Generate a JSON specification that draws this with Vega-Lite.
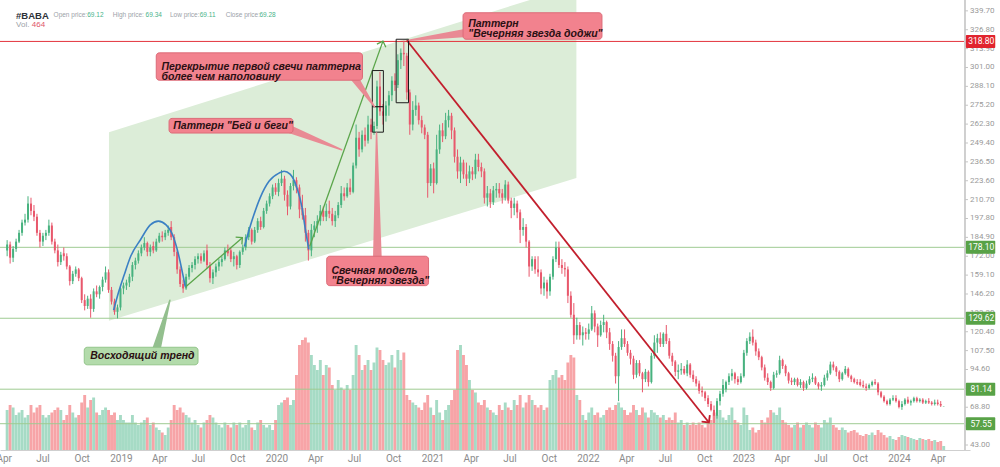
{
  "$schema": "https://vega.github.io/schema/vega-lite/v6.json",
  "width": 970,
  "height": 450,
  "autosize": {"type": "none"},
  "padding": {"left": 0, "top": 0, "right": 30, "bottom": 17},
  "background": "white",
  "config": {"view": {"stroke": null}, "font": "Liberation Sans"},
  "datasets": {
    "candles": [
      {"t":"2018-04-09","o":176,"h":183,"l":172,"c":180,"v":80},
      {"t":"2018-04-16","o":180,"h":182,"l":167,"c":171,"v":90},
      {"t":"2018-04-23","o":171,"h":179,"l":168,"c":177,"v":85},
      {"t":"2018-04-30","o":177,"h":184,"l":175,"c":182,"v":70},
      {"t":"2018-05-07","o":182,"h":190,"l":181,"c":188,"v":75},
      {"t":"2018-05-14","o":188,"h":197,"l":186,"c":195,"v":80},
      {"t":"2018-05-21","o":195,"h":201,"l":193,"c":197,"v":65},
      {"t":"2018-05-28","o":197,"h":213,"l":195,"c":208,"v":70},
      {"t":"2018-06-04","o":208,"h":212,"l":200,"c":203,"v":90},
      {"t":"2018-06-11","o":203,"h":207,"l":196,"c":199,"v":75},
      {"t":"2018-06-18","o":199,"h":201,"l":186,"c":188,"v":85},
      {"t":"2018-06-25","o":188,"h":190,"l":178,"c":182,"v":90},
      {"t":"2018-07-02","o":182,"h":188,"l":179,"c":186,"v":70},
      {"t":"2018-07-09","o":186,"h":190,"l":183,"c":188,"v":65},
      {"t":"2018-07-16","o":188,"h":197,"l":186,"c":193,"v":70},
      {"t":"2018-07-23","o":193,"h":195,"l":180,"c":182,"v":75},
      {"t":"2018-07-30","o":182,"h":184,"l":174,"c":176,"v":80},
      {"t":"2018-08-06","o":176,"h":180,"l":165,"c":168,"v":85},
      {"t":"2018-08-13","o":168,"h":175,"l":166,"c":173,"v":80},
      {"t":"2018-08-20","o":174,"h":178,"l":169,"c":172,"v":60},
      {"t":"2018-08-27","o":172,"h":174,"l":163,"c":165,"v":70},
      {"t":"2018-09-03","o":165,"h":166,"l":152,"c":155,"v":90},
      {"t":"2018-09-10","o":155,"h":162,"l":153,"c":160,"v":75},
      {"t":"2018-09-17","o":160,"h":165,"l":158,"c":163,"v":65},
      {"t":"2018-09-24","o":163,"h":164,"l":155,"c":157,"v":70},
      {"t":"2018-10-01","o":157,"h":158,"l":140,"c":142,"v":95},
      {"t":"2018-10-08","o":142,"h":146,"l":135,"c":138,"v":110},
      {"t":"2018-10-15","o":138,"h":145,"l":136,"c":143,"v":85},
      {"t":"2018-10-22","o":143,"h":146,"l":130,"c":136,"v":100},
      {"t":"2018-10-29","o":136,"h":150,"l":134,"c":148,"v":105},
      {"t":"2018-11-05","o":148,"h":152,"l":144,"c":146,"v":75},
      {"t":"2018-11-12","o":146,"h":152,"l":143,"c":151,"v":70},
      {"t":"2018-11-19","o":151,"h":158,"l":148,"c":156,"v":80},
      {"t":"2018-11-26","o":156,"h":165,"l":154,"c":161,"v":85},
      {"t":"2018-12-03","o":161,"h":163,"l":147,"c":149,"v":80},
      {"t":"2018-12-10","o":149,"h":151,"l":139,"c":141,"v":70},
      {"t":"2018-12-17","o":141,"h":143,"l":132,"c":134,"v":75},
      {"t":"2018-12-24","o":134,"h":139,"l":129.5,"c":137,"v":60},
      {"t":"2018-12-31","o":137,"h":152,"l":135,"c":150,"v":70},
      {"t":"2019-01-07","o":150,"h":154,"l":146,"c":152,"v":60},
      {"t":"2019-01-14","o":152,"h":156,"l":149,"c":154,"v":55},
      {"t":"2019-01-21","o":154,"h":160,"l":151,"c":158,"v":55},
      {"t":"2019-01-28","o":158,"h":168,"l":155,"c":166,"v":70},
      {"t":"2019-02-04","o":166,"h":171,"l":163,"c":169,"v":55},
      {"t":"2019-02-11","o":169,"h":176,"l":167,"c":174,"v":50},
      {"t":"2019-02-18","o":174,"h":180,"l":172,"c":178,"v":55},
      {"t":"2019-02-25","o":178,"h":185,"l":176,"c":181,"v":60},
      {"t":"2019-03-04","o":181,"h":182,"l":172,"c":175,"v":65},
      {"t":"2019-03-11","o":175,"h":180,"l":172,"c":178,"v":50},
      {"t":"2019-03-18","o":179,"h":182,"l":174,"c":176,"v":55},
      {"t":"2019-03-25","o":176,"h":184,"l":175,"c":182,"v":45},
      {"t":"2019-04-01","o":182,"h":188,"l":181,"c":186,"v":40},
      {"t":"2019-04-08","o":186,"h":189,"l":182,"c":185,"v":35},
      {"t":"2019-04-15","o":185,"h":190,"l":183,"c":188,"v":30},
      {"t":"2019-04-22","o":188,"h":193,"l":186,"c":190,"v":45},
      {"t":"2019-04-29","o":192,"h":196,"l":183,"c":185,"v":60},
      {"t":"2019-05-06","o":185,"h":187,"l":172,"c":175,"v":90},
      {"t":"2019-05-13","o":175,"h":176,"l":160,"c":163,"v":80},
      {"t":"2019-05-20","o":163,"h":165,"l":151,"c":153,"v":85},
      {"t":"2019-05-27","o":153,"h":156,"l":147,"c":150,"v":75},
      {"t":"2019-06-03","o":150,"h":160,"l":149,"c":158,"v":70},
      {"t":"2019-06-10","o":158,"h":166,"l":156,"c":164,"v":65},
      {"t":"2019-06-17","o":164,"h":168,"l":161,"c":166,"v":55},
      {"t":"2019-06-24","o":166,"h":172,"l":163,"c":170,"v":60},
      {"t":"2019-07-01","o":170,"h":174,"l":167,"c":172,"v":50},
      {"t":"2019-07-08","o":172,"h":174,"l":167,"c":169,"v":45},
      {"t":"2019-07-15","o":169,"h":176,"l":168,"c":174,"v":55},
      {"t":"2019-07-22","o":176,"h":180,"l":164,"c":166,"v":60},
      {"t":"2019-07-29","o":166,"h":168,"l":154,"c":157,"v":70},
      {"t":"2019-08-05","o":157,"h":163,"l":153,"c":161,"v":65},
      {"t":"2019-08-12","o":161,"h":167,"l":158,"c":165,"v":55},
      {"t":"2019-08-19","o":165,"h":170,"l":162,"c":168,"v":50},
      {"t":"2019-08-26","o":168,"h":172,"l":165,"c":170,"v":45},
      {"t":"2019-09-02","o":170,"h":178,"l":169,"c":176,"v":55},
      {"t":"2019-09-09","o":176,"h":180,"l":172,"c":174,"v":50},
      {"t":"2019-09-16","o":176,"h":178,"l":168,"c":170,"v":45},
      {"t":"2019-09-23","o":170,"h":175,"l":165,"c":172,"v":55},
      {"t":"2019-09-30","o":172,"h":173,"l":163,"c":166,"v":50},
      {"t":"2019-10-07","o":166,"h":176,"l":164,"c":175,"v":55},
      {"t":"2019-10-14","o":175,"h":180,"l":173,"c":178,"v":45},
      {"t":"2019-10-21","o":178,"h":187,"l":176,"c":185,"v":50},
      {"t":"2019-10-28","o":185,"h":192,"l":183,"c":190,"v":60},
      {"t":"2019-11-04","o":190,"h":191,"l":180,"c":182,"v":45},
      {"t":"2019-11-11","o":182,"h":192,"l":181,"c":190,"v":40},
      {"t":"2019-11-18","o":190,"h":198,"l":188,"c":196,"v":55},
      {"t":"2019-11-25","o":196,"h":199,"l":190,"c":192,"v":60},
      {"t":"2019-12-02","o":192,"h":205,"l":191,"c":203,"v":50},
      {"t":"2019-12-09","o":203,"h":210,"l":201,"c":208,"v":45},
      {"t":"2019-12-16","o":208,"h":215,"l":206,"c":213,"v":50},
      {"t":"2019-12-23","o":213,"h":221,"l":211,"c":219,"v":40},
      {"t":"2019-12-30","o":219,"h":222,"l":214,"c":216,"v":60},
      {"t":"2020-01-06","o":216,"h":225,"l":213,"c":222,"v":90},
      {"t":"2020-01-13","o":222,"h":231,"l":220,"c":225,"v":95},
      {"t":"2020-01-20","o":225,"h":227,"l":210,"c":214,"v":100},
      {"t":"2020-01-27","o":214,"h":217,"l":200,"c":206,"v":105},
      {"t":"2020-02-03","o":206,"h":222,"l":204,"c":220,"v":90},
      {"t":"2020-02-10","o":220,"h":231,"l":217,"c":224,"v":100},
      {"t":"2020-02-17","o":224,"h":226,"l":215,"c":219,"v":150},
      {"t":"2020-02-24","o":219,"h":221,"l":198,"c":204,"v":210},
      {"t":"2020-03-02","o":205,"h":214,"l":197,"c":200,"v":220},
      {"t":"2020-03-09","o":200,"h":205,"l":182,"c":188,"v":225},
      {"t":"2020-03-16","o":188,"h":190,"l":169,"c":176,"v":215},
      {"t":"2020-03-23","o":176,"h":194,"l":172,"c":190,"v":190},
      {"t":"2020-03-30","o":190,"h":196,"l":185,"c":193,"v":170},
      {"t":"2020-04-06","o":193,"h":200,"l":188,"c":196,"v":160},
      {"t":"2020-04-13","o":196,"h":207,"l":193,"c":203,"v":180},
      {"t":"2020-04-20","o":203,"h":206,"l":196,"c":199,"v":150},
      {"t":"2020-04-27","o":199,"h":208,"l":196,"c":203,"v":170},
      {"t":"2020-05-04","o":203,"h":210,"l":198,"c":201,"v":165},
      {"t":"2020-05-11","o":201,"h":205,"l":193,"c":196,"v":130},
      {"t":"2020-05-18","o":196,"h":203,"l":192,"c":200,"v":120},
      {"t":"2020-05-25","o":200,"h":209,"l":198,"c":207,"v":140},
      {"t":"2020-06-01","o":207,"h":220,"l":205,"c":215,"v":125},
      {"t":"2020-06-08","o":215,"h":219,"l":210,"c":213,"v":120},
      {"t":"2020-06-15","o":213,"h":222,"l":212,"c":219,"v":130},
      {"t":"2020-06-22","o":219,"h":225,"l":214,"c":216,"v":120},
      {"t":"2020-06-29","o":216,"h":236,"l":215,"c":234,"v":150},
      {"t":"2020-07-06","o":234,"h":262,"l":232,"c":253,"v":210},
      {"t":"2020-07-13","o":253,"h":257,"l":240,"c":245,"v":190},
      {"t":"2020-07-20","o":245,"h":258,"l":243,"c":255,"v":160},
      {"t":"2020-07-27","o":255,"h":260,"l":247,"c":251,"v":170},
      {"t":"2020-08-03","o":251,"h":268,"l":249,"c":262,"v":180},
      {"t":"2020-08-10","o":262,"h":266,"l":252,"c":257,"v":160},
      {"t":"2020-08-17","o":257,"h":264,"l":255,"c":261,"v":175},
      {"t":"2020-08-24","o":261,"h":292,"l":259,"c":288,"v":205},
      {"t":"2020-08-31","o":288,"h":298,"l":268,"c":271,"v":200},
      {"t":"2020-09-07","o":271,"h":276,"l":262,"c":268,"v":180},
      {"t":"2020-09-14","o":268,"h":278,"l":264,"c":275,"v":170},
      {"t":"2020-09-21","o":275,"h":285,"l":268,"c":282,"v":175},
      {"t":"2020-09-28","o":282,"h":295,"l":278,"c":292,"v":190},
      {"t":"2020-10-05","o":292,"h":297,"l":285,"c":289,"v":165},
      {"t":"2020-10-12","o":289,"h":310,"l":287,"c":306,"v":200},
      {"t":"2020-10-19","o":306,"h":314,"l":300,"c":311,"v":180},
      {"t":"2020-10-26","o":311,"h":319.3,"l":302,"c":310,"v":195},
      {"t":"2020-11-02","o":309,"h":311,"l":279,"c":284,"v":110},
      {"t":"2020-11-09","o":284,"h":286,"l":255,"c":262,"v":100},
      {"t":"2020-11-16","o":262,"h":278,"l":258,"c":272,"v":95},
      {"t":"2020-11-23","o":272,"h":282,"l":268,"c":275,"v":90},
      {"t":"2020-11-30","o":275,"h":277,"l":262,"c":265,"v":85},
      {"t":"2020-12-07","o":265,"h":268,"l":256,"c":260,"v":80},
      {"t":"2020-12-14","o":260,"h":262,"l":252,"c":255,"v":95},
      {"t":"2020-12-21","o":255,"h":257,"l":212,"c":222,"v":110},
      {"t":"2020-12-28","o":222,"h":235,"l":220,"c":232,"v":85},
      {"t":"2021-01-04","o":232,"h":236,"l":215,"c":222,"v":70},
      {"t":"2021-01-11","o":222,"h":255,"l":221,"c":245,"v":100},
      {"t":"2021-01-18","o":245,"h":262,"l":242,"c":258,"v":75},
      {"t":"2021-01-25","o":258,"h":263,"l":250,"c":254,"v":60},
      {"t":"2021-02-01","o":254,"h":270,"l":252,"c":265,"v":80},
      {"t":"2021-02-08","o":265,"h":272,"l":260,"c":268,"v":90},
      {"t":"2021-02-15","o":268,"h":270,"l":252,"c":258,"v":100},
      {"t":"2021-02-22","o":258,"h":260,"l":236,"c":240,"v":120},
      {"t":"2021-03-01","o":240,"h":245,"l":225,"c":230,"v":200},
      {"t":"2021-03-08","o":230,"h":240,"l":222,"c":236,"v":210},
      {"t":"2021-03-15","o":236,"h":238,"l":225,"c":228,"v":190},
      {"t":"2021-03-22","o":228,"h":236,"l":220,"c":225,"v":170},
      {"t":"2021-03-29","o":225,"h":234,"l":222,"c":230,"v":140},
      {"t":"2021-04-05","o":230,"h":233,"l":224,"c":228,"v":120},
      {"t":"2021-04-12","o":228,"h":242,"l":225,"c":238,"v":115},
      {"t":"2021-04-19","o":238,"h":242,"l":230,"c":233,"v":95},
      {"t":"2021-04-26","o":233,"h":236,"l":226,"c":230,"v":90},
      {"t":"2021-05-03","o":230,"h":232,"l":208,"c":212,"v":100},
      {"t":"2021-05-10","o":212,"h":220,"l":206,"c":215,"v":85},
      {"t":"2021-05-17","o":215,"h":218,"l":205,"c":209,"v":80},
      {"t":"2021-05-24","o":209,"h":220,"l":207,"c":217,"v":75},
      {"t":"2021-05-31","o":217,"h":222,"l":212,"c":218,"v":70},
      {"t":"2021-06-07","o":218,"h":222,"l":212,"c":215,"v":90},
      {"t":"2021-06-14","o":215,"h":218,"l":208,"c":212,"v":80},
      {"t":"2021-06-21","o":212,"h":224,"l":210,"c":221,"v":95},
      {"t":"2021-06-28","o":221,"h":223,"l":208,"c":210,"v":85},
      {"t":"2021-07-05","o":210,"h":212,"l":198,"c":205,"v":80},
      {"t":"2021-07-12","o":205,"h":212,"l":200,"c":208,"v":100},
      {"t":"2021-07-19","o":208,"h":210,"l":198,"c":202,"v":90},
      {"t":"2021-07-26","o":202,"h":204,"l":181,"c":190,"v":110},
      {"t":"2021-08-02","o":190,"h":198,"l":186,"c":192,"v":85},
      {"t":"2021-08-09","o":192,"h":194,"l":178,"c":182,"v":95},
      {"t":"2021-08-16","o":182,"h":183,"l":158,"c":165,"v":110},
      {"t":"2021-08-23","o":165,"h":172,"l":162,"c":170,"v":100},
      {"t":"2021-08-30","o":170,"h":172,"l":160,"c":163,"v":90},
      {"t":"2021-09-06","o":163,"h":172,"l":158,"c":161,"v":85},
      {"t":"2021-09-13","o":161,"h":163,"l":146,"c":150,"v":90},
      {"t":"2021-09-20","o":150,"h":158,"l":145,"c":154,"v":80},
      {"t":"2021-09-27","o":154,"h":156,"l":143,"c":148,"v":85},
      {"t":"2021-10-04","o":148,"h":160,"l":145,"c":158,"v":140},
      {"t":"2021-10-11","o":158,"h":172,"l":156,"c":170,"v":150},
      {"t":"2021-10-18","o":170,"h":182,"l":168,"c":178,"v":160},
      {"t":"2021-10-25","o":178,"h":182,"l":164,"c":166,"v":145},
      {"t":"2021-11-01","o":166,"h":170,"l":160,"c":164,"v":150},
      {"t":"2021-11-08","o":164,"h":168,"l":158,"c":163,"v":140},
      {"t":"2021-11-15","o":163,"h":165,"l":140,"c":145,"v":175},
      {"t":"2021-11-22","o":145,"h":148,"l":130,"c":132,"v":190},
      {"t":"2021-11-29","o":132,"h":140,"l":112,"c":118,"v":185},
      {"t":"2021-12-06","o":118,"h":130,"l":115,"c":125,"v":110},
      {"t":"2021-12-13","o":125,"h":127,"l":115,"c":118,"v":100},
      {"t":"2021-12-20","o":118,"h":124,"l":111,"c":120,"v":70},
      {"t":"2021-12-27","o":120,"h":123,"l":115,"c":119,"v":60},
      {"t":"2022-01-03","o":119,"h":126,"l":115,"c":122,"v":75},
      {"t":"2022-01-10","o":122,"h":138,"l":121,"c":133,"v":85},
      {"t":"2022-01-17","o":133,"h":135,"l":120,"c":124,"v":70},
      {"t":"2022-01-24","o":124,"h":126,"l":110,"c":118,"v":75},
      {"t":"2022-01-31","o":118,"h":128,"l":117,"c":125,"v":65},
      {"t":"2022-02-07","o":125,"h":132,"l":120,"c":127,"v":70},
      {"t":"2022-02-14","o":127,"h":128,"l":116,"c":120,"v":80},
      {"t":"2022-02-21","o":120,"h":123,"l":108,"c":112,"v":85},
      {"t":"2022-02-28","o":112,"h":114,"l":100,"c":104,"v":80},
      {"t":"2022-03-07","o":104,"h":106,"l":85,"c":90,"v":90},
      {"t":"2022-03-14","o":90,"h":114,"l":73,"c":110,"v":95},
      {"t":"2022-03-21","o":110,"h":122,"l":108,"c":116,"v":85},
      {"t":"2022-03-28","o":116,"h":122,"l":110,"c":112,"v":80},
      {"t":"2022-04-04","o":112,"h":114,"l":104,"c":106,"v":70},
      {"t":"2022-04-11","o":106,"h":108,"l":98,"c":102,"v":75},
      {"t":"2022-04-18","o":102,"h":104,"l":88,"c":91,"v":90},
      {"t":"2022-04-25","o":91,"h":101,"l":89,"c":99,"v":80},
      {"t":"2022-05-02","o":99,"h":101,"l":90,"c":92,"v":70},
      {"t":"2022-05-09","o":92,"h":93,"l":79,"c":88,"v":85},
      {"t":"2022-05-16","o":88,"h":95,"l":86,"c":93,"v":75},
      {"t":"2022-05-23","o":93,"h":94,"l":83,"c":86,"v":65},
      {"t":"2022-05-30","o":86,"h":106,"l":85,"c":104,"v":80},
      {"t":"2022-06-06","o":104,"h":118,"l":102,"c":113,"v":75},
      {"t":"2022-06-13","o":113,"h":119,"l":106,"c":116,"v":70},
      {"t":"2022-06-20","o":116,"h":120,"l":110,"c":112,"v":65},
      {"t":"2022-06-27","o":112,"h":120,"l":110,"c":119,"v":70},
      {"t":"2022-07-04","o":119,"h":125,"l":112,"c":114,"v":60},
      {"t":"2022-07-11","o":114,"h":116,"l":102,"c":104,"v":65},
      {"t":"2022-07-18","o":104,"h":106,"l":97,"c":100,"v":60},
      {"t":"2022-07-25","o":100,"h":101,"l":90,"c":93,"v":75},
      {"t":"2022-08-01","o":93,"h":98,"l":88,"c":94,"v":55},
      {"t":"2022-08-08","o":94,"h":99,"l":91,"c":95,"v":60},
      {"t":"2022-08-15","o":95,"h":97,"l":91,"c":92,"v":50},
      {"t":"2022-08-22","o":92,"h":101,"l":90,"c":98,"v":55},
      {"t":"2022-08-29","o":98,"h":99,"l":89,"c":91,"v":50},
      {"t":"2022-09-05","o":91,"h":94,"l":86,"c":88,"v":55},
      {"t":"2022-09-12","o":88,"h":90,"l":83,"c":85,"v":50},
      {"t":"2022-09-19","o":85,"h":87,"l":78,"c":80,"v":55},
      {"t":"2022-09-26","o":80,"h":83,"l":76,"c":79,"v":50},
      {"t":"2022-10-03","o":79,"h":80,"l":73,"c":75,"v":45},
      {"t":"2022-10-10","o":75,"h":77,"l":69,"c":71,"v":55},
      {"t":"2022-10-17","o":71,"h":73,"l":66,"c":67,"v":60},
      {"t":"2022-10-24","o":67,"h":70,"l":58,"c":63,"v":75},
      {"t":"2022-10-31","o":63,"h":75,"l":61,"c":73,"v":70},
      {"t":"2022-11-07","o":73,"h":80,"l":70,"c":78,"v":80},
      {"t":"2022-11-14","o":78,"h":88,"l":76,"c":84,"v":65},
      {"t":"2022-11-21","o":81,"h":87,"l":79,"c":86,"v":60},
      {"t":"2022-11-28","o":86,"h":92,"l":84,"c":90,"v":70},
      {"t":"2022-12-05","o":90,"h":95,"l":87,"c":92,"v":85},
      {"t":"2022-12-12","o":92,"h":93,"l":85,"c":88,"v":60},
      {"t":"2022-12-19","o":88,"h":90,"l":84,"c":86,"v":55},
      {"t":"2022-12-26","o":86,"h":92,"l":85,"c":90,"v":50},
      {"t":"2023-01-02","o":90,"h":108,"l":89,"c":106,"v":85},
      {"t":"2023-01-09","o":106,"h":116,"l":104,"c":114,"v":70},
      {"t":"2023-01-16","o":114,"h":120,"l":112,"c":117,"v":40},
      {"t":"2023-01-23","o":117,"h":122,"l":111,"c":113,"v":45},
      {"t":"2023-01-30","o":113,"h":115,"l":104,"c":107,"v":35},
      {"t":"2023-02-06","o":107,"h":109,"l":101,"c":103,"v":40},
      {"t":"2023-02-13","o":103,"h":104,"l":94,"c":96,"v":60},
      {"t":"2023-02-20","o":96,"h":98,"l":87,"c":89,"v":55},
      {"t":"2023-02-27","o":89,"h":92,"l":84,"c":86,"v":65},
      {"t":"2023-03-06","o":86,"h":87,"l":80,"c":82,"v":80},
      {"t":"2023-03-13","o":82,"h":93,"l":81,"c":91,"v":75},
      {"t":"2023-03-20","o":91,"h":94,"l":89,"c":92,"v":70},
      {"t":"2023-03-27","o":92,"h":104,"l":91,"c":101,"v":85},
      {"t":"2023-04-03","o":101,"h":102,"l":95,"c":97,"v":60},
      {"t":"2023-04-10","o":97,"h":98,"l":90,"c":92,"v":55},
      {"t":"2023-04-17","o":92,"h":93,"l":85,"c":87,"v":50},
      {"t":"2023-04-24","o":87,"h":89,"l":84,"c":86,"v":45},
      {"t":"2023-05-01","o":86,"h":89,"l":84,"c":88,"v":50},
      {"t":"2023-05-08","o":88,"h":89,"l":83,"c":84,"v":55},
      {"t":"2023-05-15","o":84,"h":88,"l":82,"c":86,"v":45},
      {"t":"2023-05-22","o":86,"h":87,"l":80,"c":82,"v":50},
      {"t":"2023-05-29","o":82,"h":87,"l":81,"c":85,"v":55},
      {"t":"2023-06-05","o":85,"h":90,"l":84,"c":88,"v":50},
      {"t":"2023-06-12","o":88,"h":92,"l":86,"c":89,"v":45},
      {"t":"2023-06-19","o":89,"h":90,"l":84,"c":85,"v":55},
      {"t":"2023-06-26","o":85,"h":86,"l":81,"c":83,"v":50},
      {"t":"2023-07-03","o":83,"h":86,"l":80,"c":84,"v":45},
      {"t":"2023-07-10","o":84,"h":91,"l":83,"c":89,"v":60},
      {"t":"2023-07-17","o":89,"h":94,"l":87,"c":92,"v":55},
      {"t":"2023-07-24","o":92,"h":100,"l":91,"c":98,"v":65},
      {"t":"2023-07-31","o":98,"h":100,"l":94,"c":96,"v":50},
      {"t":"2023-08-07","o":96,"h":97,"l":90,"c":93,"v":45},
      {"t":"2023-08-14","o":93,"h":94,"l":86,"c":88,"v":40},
      {"t":"2023-08-21","o":88,"h":93,"l":87,"c":92,"v":45},
      {"t":"2023-08-28","o":92,"h":97,"l":91,"c":95,"v":40},
      {"t":"2023-09-04","o":95,"h":96,"l":89,"c":90,"v":35},
      {"t":"2023-09-11","o":90,"h":91,"l":86,"c":88,"v":38},
      {"t":"2023-09-18","o":88,"h":89,"l":85,"c":86,"v":40},
      {"t":"2023-09-25","o":86,"h":88,"l":84,"c":85,"v":35},
      {"t":"2023-10-02","o":86,"h":88,"l":83,"c":84,"v":30},
      {"t":"2023-10-09","o":84,"h":87,"l":82,"c":83,"v":28},
      {"t":"2023-10-16","o":83,"h":85,"l":80,"c":82,"v":32},
      {"t":"2023-10-23","o":82,"h":85,"l":81,"c":84,"v":30},
      {"t":"2023-10-30","o":84,"h":87,"l":83,"c":86,"v":35},
      {"t":"2023-11-06","o":86,"h":88,"l":84,"c":85,"v":30},
      {"t":"2023-11-13","o":85,"h":86,"l":77,"c":79,"v":40},
      {"t":"2023-11-20","o":79,"h":80,"l":75,"c":76,"v":35},
      {"t":"2023-11-27","o":76,"h":77,"l":72,"c":73,"v":30},
      {"t":"2023-12-04","o":73,"h":74,"l":70,"c":71,"v":25},
      {"t":"2023-12-11","o":71,"h":75,"l":70,"c":74,"v":28},
      {"t":"2023-12-18","o":74,"h":77,"l":73,"c":75,"v":22},
      {"t":"2023-12-25","o":75,"h":77,"l":72,"c":73,"v":20},
      {"t":"2024-01-01","o":73,"h":74,"l":68,"c":69,"v":26},
      {"t":"2024-01-08","o":69,"h":73,"l":67,"c":71,"v":30},
      {"t":"2024-01-15","o":71,"h":75,"l":70,"c":74,"v":28},
      {"t":"2024-01-22","o":74,"h":76,"l":71,"c":72,"v":26},
      {"t":"2024-01-29","o":72,"h":74,"l":70,"c":73,"v":24},
      {"t":"2024-02-05","o":73,"h":76,"l":72,"c":75,"v":22},
      {"t":"2024-02-12","o":75,"h":76,"l":72,"c":73,"v":20},
      {"t":"2024-02-19","o":73,"h":75,"l":72,"c":74,"v":24},
      {"t":"2024-02-26","o":74,"h":75,"l":71,"c":72,"v":22},
      {"t":"2024-03-04","o":72,"h":74,"l":71,"c":73,"v":20},
      {"t":"2024-03-11","o":73,"h":75,"l":71,"c":72,"v":22},
      {"t":"2024-03-18","o":72,"h":73,"l":70,"c":71,"v":18},
      {"t":"2024-03-25","o":71,"h":74,"l":70,"c":72,"v":20},
      {"t":"2024-04-01","o":72,"h":74,"l":70,"c":71,"v":16},
      {"t":"2024-04-08","o":71,"h":73,"l":69,"c":70,"v":18},
      {"t":"2024-04-15","o":69.12,"h":69.34,"l":69.11,"c":69.28,"v":8}
    ],
    "yticks": [
      {"v": 43}, {"v": 55.9}, {"v": 68.8}, {"v": 81.7}, {"v": 94.6}, {"v": 107.5}, {"v": 120.4}, {"v": 133.3},
      {"v": 146.2}, {"v": 159.1}, {"v": 172}, {"v": 184.9}, {"v": 197.8}, {"v": 210.7}, {"v": 223.6}, {"v": 236.5},
      {"v": 249.4}, {"v": 262.3}, {"v": 275.2}, {"v": 288.1}, {"v": 301}, {"v": 313.9}, {"v": 326.8}, {"v": 339.7}
    ],
    "levels": [
      {"level": 318.8, "k": "r"},
      {"level": 178.1, "k": "g"},
      {"level": 129.62, "k": "g"},
      {"level": 81.14, "k": "g"},
      {"level": 57.55, "k": "g"}
    ],
    "channel": [
      {"t": "2018-12-04", "top": 256.8, "bot": 127.9},
      {"t": "2021-12-05", "top": 357.1, "bot": 225.4}
    ],
    "arcs": [
      {"id": "a1", "t": "2018-12-15", "p": 135.2},
      {"id": "a1", "t": "2018-12-27", "p": 147.9},
      {"id": "a1", "t": "2019-01-08", "p": 158.6},
      {"id": "a1", "t": "2019-01-24", "p": 172.0},
      {"id": "a1", "t": "2019-02-16", "p": 183.3},
      {"id": "a1", "t": "2019-03-11", "p": 193.4},
      {"id": "a1", "t": "2019-03-30", "p": 196.0},
      {"id": "a1", "t": "2019-04-17", "p": 193.4},
      {"id": "a1", "t": "2019-05-04", "p": 185.3},
      {"id": "a1", "t": "2019-05-15", "p": 174.6},
      {"id": "a1", "t": "2019-05-27", "p": 158.6},
      {"id": "a1", "t": "2019-06-01", "p": 151.3},
      {"id": "a2", "t": "2019-10-18", "p": 178.7},
      {"id": "a2", "t": "2019-11-05", "p": 196.7},
      {"id": "a2", "t": "2019-11-24", "p": 212.1},
      {"id": "a2", "t": "2019-12-15", "p": 223.4},
      {"id": "a2", "t": "2020-01-07", "p": 228.8},
      {"id": "a2", "t": "2020-01-19", "p": 230.1},
      {"id": "a2", "t": "2020-02-02", "p": 228.1},
      {"id": "a2", "t": "2020-02-18", "p": 218.8},
      {"id": "a2", "t": "2020-03-01", "p": 205.4},
      {"id": "a2", "t": "2020-03-08", "p": 192.0},
      {"id": "a2", "t": "2020-03-17", "p": 176.7}
    ],
    "arrows": [
      {"id": "g1", "e": "start", "t": "2019-06-03", "p": 151.3},
      {"id": "g1", "e": "tip", "t": "2019-10-13", "p": 184.7},
      {"id": "g2", "e": "start", "t": "2020-03-19", "p": 178.7},
      {"id": "g2", "e": "tip", "t": "2020-09-07", "p": 319.0},
      {"id": "r1", "e": "start", "t": "2020-11-02", "p": 319.6},
      {"id": "r1", "e": "tip", "t": "2022-10-12", "p": 58.4}
    ],
    "frames": [
      {"t": "2020-08-13", "t2": "2020-09-08", "p": 256.8, "p2": 298.9},
      {"t": "2020-10-08", "t2": "2020-11-06", "p": 276.9, "p2": 320.3}
    ],
    "midline": [
      {"t": "2020-08-13", "t2": "2020-09-08", "p": 274.2}
    ],
    "tails": [
      {"id": "t1", "e": "base", "t": "2020-06-25", "p": 296.9},
      {"id": "t1", "e": "tip", "t": "2020-08-18", "p": 274.2},
      {"id": "t2", "e": "base", "t": "2020-01-14", "p": 260.9},
      {"id": "t2", "e": "tip", "t": "2020-06-02", "p": 244.8},
      {"id": "t3", "e": "base", "t": "2020-08-25", "p": 167.3},
      {"id": "t3", "e": "tip", "t": "2020-08-23", "p": 256.2},
      {"id": "t4", "e": "base", "t": "2021-03-31", "p": 325.0},
      {"id": "t4", "e": "tip", "t": "2020-11-07", "p": 319.65},
      {"id": "t5", "e": "base", "t": "2019-03-23", "p": 105.8},
      {"id": "t5", "e": "tip", "t": "2019-04-26", "p": 141.9}
    ],
    "boxes": [
      {"k": "pink", "t": "2019-03-25", "t2": "2020-07-21", "p": 292.3, "p2": 311.0},
      {"k": "pink", "t": "2019-04-24", "t2": "2020-02-09", "p": 256.2, "p2": 266.2},
      {"k": "pink", "t": "2020-04-28", "t2": "2020-12-23", "p": 151.9, "p2": 172.0},
      {"k": "pink", "t": "2021-03-14", "t2": "2022-02-03", "p": 320.3, "p2": 338.4},
      {"k": "green", "t": "2018-10-07", "t2": "2019-07-01", "p": 97.8, "p2": 109.8}
    ],
    "notes": [
      {"t": "2019-04-06", "p": 301.3, "s": "Перекрытие первой свечи паттерна\nболее чем наполовину"},
      {"t": "2019-05-04", "p": 260.9, "s": "Паттерн \"Бей и беги\""},
      {"t": "2020-05-09", "p": 162.0, "s": "Свечная модель\n\"Вечерняя звезда\""},
      {"t": "2021-03-26", "p": 330.7, "s": "Паттерн\n\"Вечерняя звезда доджи\""},
      {"t": "2018-10-21", "p": 103.8, "s": "Восходящий тренд"}
    ],
    "header": [
      {"t": "2018-04-30", "p": 336.4, "s": "#BABA", "k": "sym"},
      {"t": "2018-07-27", "p": 336.6, "s": "Open price:", "k": "lab"},
      {"t": "2018-10-14", "p": 336.6, "s": "69.12", "k": "val"},
      {"t": "2018-12-13", "p": 336.6, "s": "High price:", "k": "lab"},
      {"t": "2019-02-28", "p": 336.6, "s": "69.34", "k": "val"},
      {"t": "2019-04-26", "p": 336.6, "s": "Low price:", "k": "lab"},
      {"t": "2019-07-05", "p": 336.6, "s": "69.11", "k": "val"},
      {"t": "2019-09-04", "p": 336.6, "s": "Close price:", "k": "lab"},
      {"t": "2019-11-22", "p": 336.6, "s": "69.28", "k": "val"},
      {"t": "2018-04-30", "p": 329.9, "s": "Vol.", "k": "vlab"},
      {"t": "2018-06-06", "p": 329.9, "s": "464", "k": "vval"}
    ]
  },
  "layer": [
    {
      "data": {"name": "candles"},
      "mark": {"type": "bar", "width": 2.9},
      "encoding": {
        "x": {
          "field": "t", "type": "temporal", "title": null,
          "scale": {"domain": [{"year": 2018, "month": 4, "date": 4}, {"year": 2024, "month": 6, "date": 4}]},
          "axis": {
            "title": null,
            "values": [
              {"year": 2018, "month": 4, "date": 1}, {"year": 2018, "month": 7, "date": 1}, {"year": 2018, "month": 10, "date": 1},
              {"year": 2019, "month": 1, "date": 1}, {"year": 2019, "month": 4, "date": 1}, {"year": 2019, "month": 7, "date": 1}, {"year": 2019, "month": 10, "date": 1},
              {"year": 2020, "month": 1, "date": 1}, {"year": 2020, "month": 4, "date": 1}, {"year": 2020, "month": 7, "date": 1}, {"year": 2020, "month": 10, "date": 1},
              {"year": 2021, "month": 1, "date": 1}, {"year": 2021, "month": 4, "date": 1}, {"year": 2021, "month": 7, "date": 1}, {"year": 2021, "month": 10, "date": 1},
              {"year": 2022, "month": 1, "date": 1}, {"year": 2022, "month": 4, "date": 1}, {"year": 2022, "month": 7, "date": 1}, {"year": 2022, "month": 10, "date": 1},
              {"year": 2023, "month": 1, "date": 1}, {"year": 2023, "month": 4, "date": 1}, {"year": 2023, "month": 7, "date": 1}, {"year": 2023, "month": 10, "date": 1},
              {"year": 2024, "month": 1, "date": 1}, {"year": 2024, "month": 4, "date": 1}
            ],
            "labelExpr": "month(datum.value) === 0 ? timeFormat(datum.value, '%Y') : timeFormat(datum.value, '%b')",
            "ticks": false,
            "grid": false,
            "domainColor": "#cfcfcf",
            "labelColor": "#8c8c8c",
            "labelFont": "Roboto",
            "labelFontSize": 10,
            "labelPadding": 3,
            "labelFlush": false,
            "labelOverlap": false
          }
        },
        "y": {"field": "v", "type": "quantitative", "title": null, "scale": {"domain": [0, 900]}, "axis": null},
        "color": {"condition": {"test": "datum.c >= datum.o", "value": "#a6dbc5"}, "value": "#f7a4a7"}
      }
    },
    {
      "layer": [
        {
          "data": {"name": "channel"},
          "mark": {"type": "area", "clip": true, "color": "#dcedd8", "opacity": 1},
          "encoding": {
            "x": {"field": "t", "type": "temporal", "title": null, "scale": {"domain": [{"year": 2018, "month": 4, "date": 4}, {"year": 2024, "month": 6, "date": 4}]}},
            "y": {"field": "top", "type": "quantitative", "title": null, "scale": {"domain": [43, 343.7]}, "axis": null},
            "y2": {"field": "bot"}
          }
        },
        {
          "data": {"name": "levels"},
          "mark": {"type": "rule", "strokeWidth": 1},
          "encoding": {
            "y": {"field": "level", "type": "quantitative", "title": null, "scale": {"domain": [43, 343.7]}, "axis": null},
            "color": {"condition": {"test": "datum.k === 'r'", "value": "#e3343d"}, "value": "#9fcb92"}
          }
        },
        {
          "data": {"name": "candles"},
          "mark": {"type": "rule", "strokeWidth": 1},
          "encoding": {
            "x": {"field": "t", "type": "temporal", "title": null, "scale": {"domain": [{"year": 2018, "month": 4, "date": 4}, {"year": 2024, "month": 6, "date": 4}]}},
            "y": {"field": "l", "type": "quantitative", "title": null, "scale": {"domain": [43, 343.7]}, "axis": null},
            "y2": {"field": "h"},
            "color": {"condition": {"test": "datum.c >= datum.o", "value": "#48b27f"}, "value": "#e8586c"}
          }
        },
        {
          "data": {"name": "candles"},
          "mark": {"type": "bar", "width": 2},
          "encoding": {
            "x": {"field": "t", "type": "temporal", "title": null, "scale": {"domain": [{"year": 2018, "month": 4, "date": 4}, {"year": 2024, "month": 6, "date": 4}]}},
            "y": {"field": "o", "type": "quantitative", "title": null, "scale": {"domain": [43, 343.7]}, "axis": null},
            "y2": {"field": "c"},
            "color": {"condition": {"test": "datum.c >= datum.o", "value": "#48b27f"}, "value": "#e8586c"}
          }
        },
        {
          "data": {"name": "arcs"},
          "mark": {"type": "line", "interpolate": "monotone", "strokeWidth": 1.6, "color": "#3b80c4"},
          "encoding": {
            "x": {"field": "t", "type": "temporal", "title": null, "scale": {"domain": [{"year": 2018, "month": 4, "date": 4}, {"year": 2024, "month": 6, "date": 4}]}},
            "y": {"field": "p", "type": "quantitative", "title": null, "scale": {"domain": [43, 343.7]}, "axis": null},
            "detail": {"field": "id"}
          }
        },
        {
          "data": {"name": "arrows"},
          "mark": {"type": "line"},
          "encoding": {
            "x": {"field": "t", "type": "temporal", "title": null, "scale": {"domain": [{"year": 2018, "month": 4, "date": 4}, {"year": 2024, "month": 6, "date": 4}]}},
            "y": {"field": "p", "type": "quantitative", "title": null, "scale": {"domain": [43, 343.7]}, "axis": null},
            "detail": {"field": "id"},
            "color": {"condition": {"test": "datum.id === 'r1'", "value": "#c21f2d"}, "value": "#5aa54a"},
            "strokeWidth": {"condition": {"test": "datum.id === 'r1'", "value": 1.8}, "value": 1.3}
          }
        },
        {
          "data": {"name": "arrows"},
          "transform": [{"filter": "datum.e === 'tip' && datum.id === 'g1'"}],
          "mark": {"type": "point", "shape": "M-1,1L0,0L1,1", "filled": false, "size": 90, "strokeWidth": 1.3, "angle": 48.7, "color": "#5aa54a", "opacity": 1},
          "encoding": {
            "x": {"field": "t", "type": "temporal", "title": null, "scale": {"domain": [{"year": 2018, "month": 4, "date": 4}, {"year": 2024, "month": 6, "date": 4}]}},
            "y": {"field": "p", "type": "quantitative", "title": null, "scale": {"domain": [43, 343.7]}, "axis": null}
          }
        },
        {
          "data": {"name": "arrows"},
          "transform": [{"filter": "datum.e === 'tip' && datum.id === 'g2'"}],
          "mark": {"type": "point", "shape": "M-1,1L0,0L1,1", "filled": false, "size": 90, "strokeWidth": 1.3, "angle": 19.4, "color": "#5aa54a", "opacity": 1},
          "encoding": {
            "x": {"field": "t", "type": "temporal", "title": null, "scale": {"domain": [{"year": 2018, "month": 4, "date": 4}, {"year": 2024, "month": 6, "date": 4}]}},
            "y": {"field": "p", "type": "quantitative", "title": null, "scale": {"domain": [43, 343.7]}, "axis": null}
          }
        },
        {
          "data": {"name": "arrows"},
          "transform": [{"filter": "datum.e === 'tip' && datum.id === 'r1'"}],
          "mark": {"type": "point", "shape": "M-1,1L0,0L1,1", "filled": false, "size": 110, "strokeWidth": 1.8, "angle": 142, "color": "#c21f2d", "opacity": 1},
          "encoding": {
            "x": {"field": "t", "type": "temporal", "title": null, "scale": {"domain": [{"year": 2018, "month": 4, "date": 4}, {"year": 2024, "month": 6, "date": 4}]}},
            "y": {"field": "p", "type": "quantitative", "title": null, "scale": {"domain": [43, 343.7]}, "axis": null}
          }
        },
        {
          "data": {"name": "frames"},
          "mark": {"type": "rect", "fillOpacity": 0, "stroke": "#1d1d1d", "strokeWidth": 1},
          "encoding": {
            "x": {"field": "t", "type": "temporal", "title": null, "scale": {"domain": [{"year": 2018, "month": 4, "date": 4}, {"year": 2024, "month": 6, "date": 4}]}},
            "x2": {"field": "t2"},
            "y": {"field": "p", "type": "quantitative", "title": null, "scale": {"domain": [43, 343.7]}, "axis": null},
            "y2": {"field": "p2"}
          }
        },
        {
          "data": {"name": "midline"},
          "mark": {"type": "rule", "strokeWidth": 1.2, "color": "#1d1d1d"},
          "encoding": {
            "x": {"field": "t", "type": "temporal", "title": null, "scale": {"domain": [{"year": 2018, "month": 4, "date": 4}, {"year": 2024, "month": 6, "date": 4}]}},
            "x2": {"field": "t2"},
            "y": {"field": "p", "type": "quantitative", "title": null, "scale": {"domain": [43, 343.7]}, "axis": null}
          }
        },
        {
          "data": {"name": "tails"},
          "mark": {"type": "trail"},
          "encoding": {
            "x": {"field": "t", "type": "temporal", "title": null, "scale": {"domain": [{"year": 2018, "month": 4, "date": 4}, {"year": 2024, "month": 6, "date": 4}]}},
            "y": {"field": "p", "type": "quantitative", "title": null, "scale": {"domain": [43, 343.7]}, "axis": null},
            "detail": {"field": "id"},
            "size": {"condition": {"test": "datum.e === 'base'", "value": 9}, "value": 1.5},
            "color": {"condition": {"test": "datum.id === 't5'", "value": "#93bf8e"}, "value": "#e98a94"}
          }
        },
        {
          "data": {"name": "boxes"},
          "mark": {"type": "rect", "cornerRadius": 3, "strokeWidth": 1},
          "encoding": {
            "x": {"field": "t", "type": "temporal", "title": null, "scale": {"domain": [{"year": 2018, "month": 4, "date": 4}, {"year": 2024, "month": 6, "date": 4}]}},
            "x2": {"field": "t2"},
            "y": {"field": "p", "type": "quantitative", "title": null, "scale": {"domain": [43, 343.7]}, "axis": null},
            "y2": {"field": "p2"},
            "color": {"condition": {"test": "datum.k === 'green'", "value": "#b3dbab"}, "value": "#f2828e"},
            "stroke": {"condition": {"test": "datum.k === 'green'", "value": "#93c58a"}, "value": "#dc6b78"}
          }
        },
        {
          "data": {"name": "notes"},
          "mark": {"type": "text", "align": "left", "baseline": "middle", "font": "Liberation Sans", "fontStyle": "italic", "fontWeight": "bold", "fontSize": 10.5, "lineBreak": "\n", "lineHeight": 10, "color": "#2b1013"},
          "encoding": {
            "x": {"field": "t", "type": "temporal", "title": null, "scale": {"domain": [{"year": 2018, "month": 4, "date": 4}, {"year": 2024, "month": 6, "date": 4}]}},
            "y": {"field": "p", "type": "quantitative", "title": null, "scale": {"domain": [43, 343.7]}, "axis": null},
            "text": {"field": "s"}
          }
        },
        {
          "data": {"name": "yticks"},
          "mark": {"type": "rule", "color": "#cfcfcf", "strokeWidth": 1},
          "encoding": {
            "x": {"datum": {"year": 2024, "month": 6, "date": 4}, "type": "temporal", "title": null, "scale": {"domain": [{"year": 2018, "month": 4, "date": 4}, {"year": 2024, "month": 6, "date": 4}]}}
          }
        },
        {
          "data": {"name": "yticks"},
          "mark": {"type": "rule", "color": "#c4c4c4", "strokeWidth": 1},
          "encoding": {
            "x": {"datum": {"year": 2024, "month": 6, "date": 4}, "type": "temporal", "title": null, "scale": {"domain": [{"year": 2018, "month": 4, "date": 4}, {"year": 2024, "month": 6, "date": 4}]}},
            "x2": {"datum": {"year": 2024, "month": 6, "date": 11}},
            "y": {"field": "v", "type": "quantitative", "title": null, "scale": {"domain": [43, 343.7]}, "axis": null}
          }
        },
        {
          "data": {"name": "yticks"},
          "mark": {"type": "text", "align": "left", "baseline": "middle", "dx": 5, "font": "Roboto", "fontSize": 8, "color": "#9a9a9a"},
          "encoding": {
            "x": {"datum": {"year": 2024, "month": 6, "date": 4}, "type": "temporal", "title": null, "scale": {"domain": [{"year": 2018, "month": 4, "date": 4}, {"year": 2024, "month": 6, "date": 4}]}},
            "y": {"field": "v", "type": "quantitative", "title": null, "scale": {"domain": [43, 343.7]}, "axis": null},
            "text": {"field": "v", "type": "quantitative", "format": ".2f"}
          }
        },
        {
          "data": {"name": "levels"},
          "mark": {"type": "bar", "height": 13, "cornerRadius": 1},
          "encoding": {
            "x": {"datum": {"year": 2024, "month": 6, "date": 6}, "type": "temporal", "title": null, "scale": {"domain": [{"year": 2018, "month": 4, "date": 4}, {"year": 2024, "month": 6, "date": 4}]}},
            "x2": {"datum": {"year": 2024, "month": 8, "date": 14}},
            "y": {"field": "level", "type": "quantitative", "title": null, "scale": {"domain": [43, 343.7]}, "axis": null},
            "color": {"condition": {"test": "datum.k === 'r'", "value": "#e1242e"}, "value": "#58a247"}
          }
        },
        {
          "data": {"name": "levels"},
          "mark": {"type": "text", "align": "center", "baseline": "middle", "font": "Roboto", "fontSize": 8.5, "color": "white"},
          "encoding": {
            "x": {"datum": {"year": 2024, "month": 7, "date": 12}, "type": "temporal", "title": null, "scale": {"domain": [{"year": 2018, "month": 4, "date": 4}, {"year": 2024, "month": 6, "date": 4}]}},
            "y": {"field": "level", "type": "quantitative", "title": null, "scale": {"domain": [43, 343.7]}, "axis": null},
            "text": {"field": "level", "type": "quantitative", "format": ".2f"}
          }
        },
        {
          "data": {"name": "header"},
          "transform": [{"filter": "datum.k === 'sym'"}],
          "mark": {"type": "text", "align": "left", "baseline": "middle", "font": "Liberation Sans", "fontWeight": "bold", "fontSize": 9.5, "color": "#2d3138"},
          "encoding": {
            "x": {"field": "t", "type": "temporal", "title": null, "scale": {"domain": [{"year": 2018, "month": 4, "date": 4}, {"year": 2024, "month": 6, "date": 4}]}},
            "y": {"field": "p", "type": "quantitative", "title": null, "scale": {"domain": [43, 343.7]}, "axis": null},
            "text": {"field": "s"}
          }
        },
        {
          "data": {"name": "header"},
          "transform": [{"filter": "datum.k !== 'sym'"}],
          "mark": {"type": "text", "align": "left", "baseline": "middle", "font": "Liberation Sans"},
          "encoding": {
            "x": {"field": "t", "type": "temporal", "title": null, "scale": {"domain": [{"year": 2018, "month": 4, "date": 4}, {"year": 2024, "month": 6, "date": 4}]}},
            "y": {"field": "p", "type": "quantitative", "title": null, "scale": {"domain": [43, 343.7]}, "axis": null},
            "text": {"field": "s"},
            "size": {"condition": {"test": "datum.k === 'vlab' || datum.k === 'vval'", "value": 8}, "value": 6.5},
            "color": {"condition": [{"test": "datum.k === 'val'", "value": "#47b38a"}, {"test": "datum.k === 'vval'", "value": "#e0566a"}], "value": "#9ba1a8"}
          }
        }
      ]
    }
  ],
  "resolve": {"scale": {"y": "independent"}}
}
